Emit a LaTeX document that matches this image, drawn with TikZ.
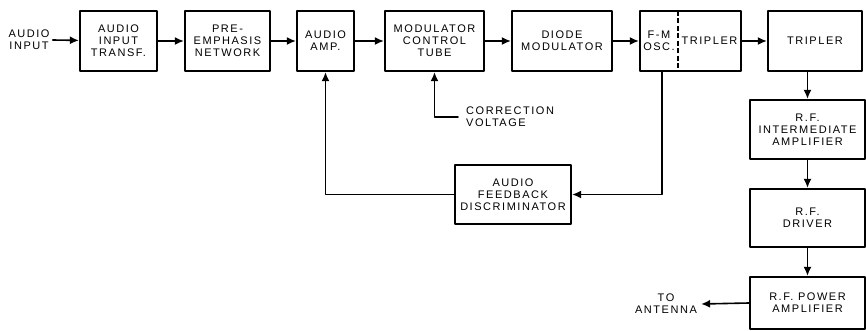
\documentclass[tikz,border=0pt]{standalone}
\usepackage{fontspec}
\setmainfont{Liberation Sans}[LetterSpace=14]
\usetikzlibrary{arrows.meta}
\begin{document}
\begin{tikzpicture}[x=1pt, y=-1pt, line join=round, line cap=round, >={Latex[length=9pt,width=8pt]},
	blk/.style={draw, line width=2.2pt, inner sep=0pt, align=center, minimum height=60pt, font=\fontsize{11}{12}\selectfont},
	lbl/.style={inner sep=0pt, align=center, font=\fontsize{11}{12}\selectfont},
	wire/.style={line width=1.6pt}]
	\useasboundingbox (0,0) rectangle (866,331);
	% top row
	\node[lbl] (ain) at (29,40) {AUDIO\\INPUT};
	\node[blk, minimum width=77pt] (transf) at (118.5,41) {AUDIO\\INPUT\\TRANSF.};
	\node[blk, minimum width=85pt] (preemph) at (227.5,41) {PRE-\\EMPHASIS\\NETWORK};
	\node[blk, minimum width=57pt] (amp) at (325.5,41) {AUDIO\\AMP.};
	\node[blk, minimum width=99pt] (mct) at (434.5,41) {MODULATOR\\CONTROL\\TUBE};
	\node[blk, minimum width=100pt] (diode) at (562,41) {DIODE\\MODULATOR};
	\node[blk, minimum width=101pt] (fm) at (690.5,41) {};
	\node[lbl] (osc) at (659,41) {F-M\\OSC.};
	\node[lbl] (trip1) at (709.5,41) {TRIPLER};
	\draw[line width=1.8pt, line cap=butt, dash pattern=on 5pt off 2.5pt] (678,11) -- (678,71);
	\node[blk, minimum width=94pt] (trip2) at (815,41) {TRIPLER};
	% right column
	\node[blk, minimum width=115pt, minimum height=59pt] (rfint) at (807.5,129.5) {R.F.\\INTERMEDIATE\\AMPLIFIER};
	\node[blk, minimum width=115pt, minimum height=58pt] (rfdrv) at (807.5,218) {R.F.\\DRIVER};
	\node[blk, minimum width=115pt, minimum height=52pt] (rfpa) at (807.5,303) {R.F. POWER\\AMPLIFIER};
	\node[lbl] (ant) at (666,304) {TO\\ANTENNA};
	% feedback loop
	\node[blk, minimum width=116pt, minimum height=59pt] (disc) at (513,194.5) {AUDIO\\FEEDBACK\\DISCRIMINATOR};
	\node[lbl, align=left, anchor=west, inner xsep=8pt] (corr) at (458,117) {CORRECTION\\VOLTAGE};
	\coordinate (tap) at (662,71);
	% connectors
	\draw[wire,->] ([xshift=3pt]ain.east) -- (transf);
	\draw[wire,->] (transf) -- (preemph);
	\draw[wire,->] (preemph) -- (amp);
	\draw[wire,->] (amp) -- (mct);
	\draw[wire,->] (mct) -- (diode);
	\draw[wire,->] (diode) -- (fm);
	\draw[wire,->] (fm) -- (trip2);
	\draw[wire,->] (trip2.south -| rfint.north) -- (rfint.north);
	\draw[wire,->] (rfint) -- (rfdrv);
	\draw[wire,->] (rfdrv) -- (rfpa);
	\draw[wire,->] (rfpa.west) -- ([xshift=4pt]ant.east);
	\draw[wire,->] (corr.west) -| (mct.south);
	\draw[wire,->] (tap) |- (disc.east);
	\draw[wire,->] (disc.west) -| (amp.south);
\end{tikzpicture}
\end{document}
